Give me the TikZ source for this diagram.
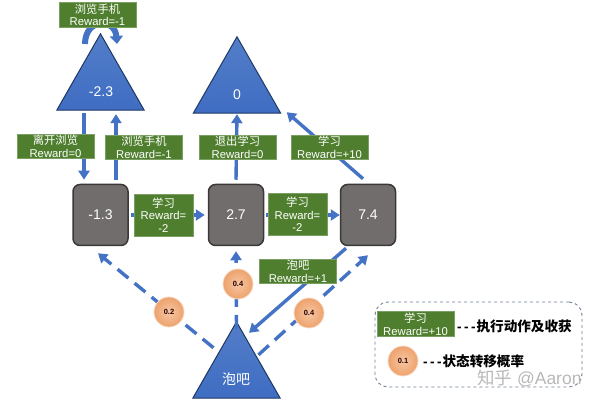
\documentclass[tikz,border=0pt]{standalone}
\usepackage{fontspec}
\setmainfont{Liberation Sans}
\newfontfamily\cjk{Noto Sans CJK SC}
\usetikzlibrary{arrows.meta}
\definecolor{blueA}{HTML}{4472C4}
\definecolor{blueB}{HTML}{3F6DC2}
\definecolor{blueEdge}{HTML}{1F3864}
\definecolor{greenL}{HTML}{4F7F2E}
\definecolor{grayS}{HTML}{716D6D}
\definecolor{grayEdge}{HTML}{3A3838}
\definecolor{legendEdge}{HTML}{6F7F96}
\definecolor{orangeIn}{HTML}{F6C6A3}
\definecolor{orangeOut}{HTML}{EDA26C}
\newcommand{\zh}[1]{{\cjk #1}}
\newcommand{\tripledash}{{-}\kern2.4pt{-}\kern2.4pt{-}\kern1pt}
\tikzset{
  conn/.style={draw=blueA,line width=3.4pt,-{Triangle[length=9pt,width=11pt]}},
  connd/.style={conn,dash pattern=on 14pt off 8pt},
  labelbox/.style={fill=greenL,draw=greenL!75!white,line width=0.5pt,text=white,inner sep=0pt,
    minimum width=77pt,minimum height=24.5pt,align=center,font=\fontsize{11.3}{12.6}\selectfont,
    execute at begin node={\rule{0pt}{12pt}}},
  labeltall/.style={labelbox,minimum width=59pt,minimum height=42pt},
  statebox/.style={fill=grayS,draw=grayEdge,line width=1.5pt,rounded corners=7pt,text=white,
    minimum width=55pt,minimum height=61pt,inner sep=0pt,font=\fontsize{14}{16}\selectfont},
  triframe/.style={minimum width=87pt,minimum height=76pt,inner sep=0pt},
  triface/.style={top color=blueA!92!white,bottom color=blueB,draw=blueEdge,line width=1pt,line join=miter},
  trilabel/.style={text=white,inner sep=0pt,font=\fontsize{14}{16}\selectfont},
  probdot/.style={circle,minimum size=30pt,inner sep=0pt,draw=orangeOut!40!white,line width=0.8pt,
    inner color=orangeIn,outer color=orangeOut,text=black!85!red,font=\bfseries\fontsize{7.5}{9}\selectfont},
  legendtext/.style={text=black,inner sep=0pt,anchor=west,font=\bfseries\fontsize{13.6}{15}\selectfont},
}
\begin{document}
\begin{tikzpicture}[x=1pt,y=-1pt]
\useasboundingbox (0,0) rectangle (600,403);
% triangles
\node[triframe] (t1) at (100.5,72) {};
\node[triframe] (t2) at (237,75) {};
\node[triframe] (t3) at (236.5,360) {};
\foreach \t in {t1,t2,t3}
  \draw[triface] (\t.north) -- (\t.south east) -- (\t.south west) -- cycle;
\node[trilabel] (t1n) at (101,92) {-2.3};
\node[trilabel] (t2n) at (237,95) {0};
\node[trilabel] (t3n) at (236,379) {\zh{泡吧}};
% states
\node[statebox] (s1) at (100.5,215) {-1.3};
\node[statebox] (s2) at (236,215) {2.7};
\node[statebox] (s3) at (368,215) {7.4};
% connectors
\coordinate (loopL) at (85,44);
\coordinate (loopR) at (117,44);
\draw[conn,line width=6pt,-{Triangle[length=8pt,width=13pt]}] (loopL) .. controls (85,18) and (115,18) .. (loopR);
\draw[conn] ([xshift=-16.5pt,yshift=-3pt]t1.south) -- ([xshift=-16.5pt,yshift=4pt]s1.north);
\draw[conn] ([xshift=15.5pt,yshift=4pt]s1.north) -- ([xshift=15.5pt,yshift=-4pt]t1.south);
\draw[conn] ([yshift=4pt]s2.north) -- ([yshift=-1pt]t2.south);
\draw[conn] ([xshift=-5pt,yshift=5pt]s3.north) -- ([xshift=6pt,yshift=1pt]t2.south east);
\draw[conn] ([xshift=2pt]s1.east) -- ([xshift=-3pt]s2.west);
\draw[conn] ([xshift=2pt]s2.east) -- (s3.west);
\draw[conn] ([xshift=-22pt,yshift=-2pt]s3.south) -- ([xshift=12.5pt,yshift=-11pt]t3.north);
\draw[connd] ([xshift=-23pt,yshift=-26pt]t3.north) -- ([xshift=-2.5pt,yshift=-7pt]s1.south);
\draw[connd] ([yshift=-7pt]t3.north) -- ([yshift=-5pt]s2.south);
\draw[connd] ([xshift=22pt,yshift=-33pt]t3.north) -- ([xshift=0pt,yshift=-9pt]s3.south);
% labels
\node[labelbox] (l1) at (97.5,15) {\zh{浏览手机}\\Reward=-1};
\node[labelbox] (l2) at (55.5,146.5) {\zh{离开浏览}\\Reward=0};
\node[labelbox] (l3) at (144,147.5) {\zh{浏览手机}\\Reward=-1};
\node[labelbox] (l4) at (237.5,147.5) {\zh{退出学习}\\Reward=0};
\node[labelbox] (l5) at (329.5,147.5) {\zh{学习}\\Reward=+10};
\node[labeltall] (l6) at (163.5,215) {\zh{学习}\\Reward=\\-2};
\node[labeltall] (l7) at (297.5,214.5) {\zh{学习}\\Reward=\\-2};
\node[labelbox] (l8) at (298,271.5) {\zh{泡吧}\\Reward=+1};
% probabilities
\node[probdot] (p1) at (169,312) {0.2};
\node[probdot] (p2) at (238,284) {0.4};
\node[probdot] (p3) at (309,313) {0.4};
% legend
\node[draw=legendEdge,dashed,line width=0.9pt,rounded corners=13pt,minimum width=207pt,minimum height=85pt,inner sep=0pt] (legend) at (478.5,344.5) {};
\node[labelbox] (k1) at (415.5,324) {\zh{学习}\\Reward=+10};
\node[legendtext] (k1t) at (457,326) {\tripledash\zh{执行动作及收获}};
\node[probdot] (k2) at (403,361) {0.1};
\node[legendtext] (k2t) at (423,361) {\tripledash\zh{状态转移概率}};
\node[text=black!28,inner sep=0pt,anchor=west,font=\fontsize{17.5}{19}\selectfont] (mark) at (477,378) {\zh{知乎} @Aaron};
\end{tikzpicture}
\end{document}
